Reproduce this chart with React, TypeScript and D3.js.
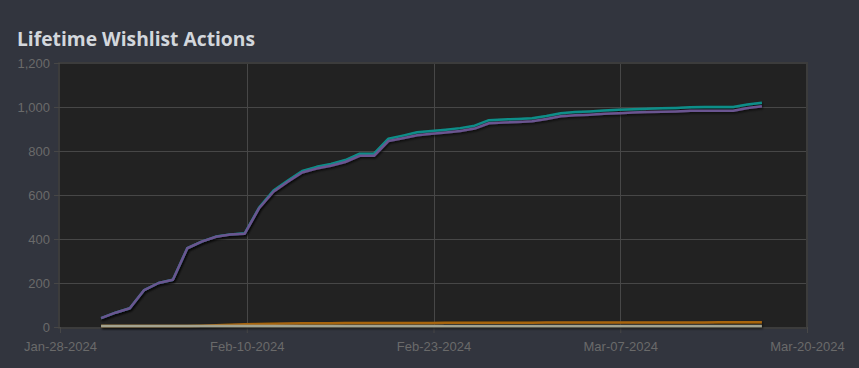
import * as d3 from 'd3';
import React, { useRef, useEffect } from 'react';

// daily points, starting Jan 31 2024
const startDate = new Date(2024, 0, 31)

const netValues = [40, 65, 85, 168, 200, 215, 358, 388, 410, 420, 424,
    540, 615, 660, 702, 720, 733, 750, 778, 778, 845, 858, 872, 878, 884,
    891, 902, 926, 929, 932, 935, 945, 958, 962, 965, 969, 972, 975, 977,
    978, 980, 983, 983, 983, 983, 995, 1003]

const addValues = [40, 65, 85, 168, 200, 215, 358, 388, 411, 421, 426,
    543, 620, 666, 709, 728, 741, 759, 788, 788, 856, 870, 885, 891, 897,
    904, 915, 940, 943, 946, 949, 959, 972, 977, 980, 984, 987, 990, 992,
    994, 996, 999, 1000, 1000, 1000, 1011, 1019]

const deleteValues = [5, 5, 5, 5, 5, 5, 5, 6, 8, 10, 12,
    14, 15, 16, 17, 17, 17, 18, 18, 18, 18, 18, 18, 18, 19,
    19, 19, 19, 19, 19, 19, 20, 20, 20, 20, 21, 21, 21, 21,
    21, 21, 21, 21, 22, 22, 22, 22]

const purchaseValues = [5, 5, 5, 5, 5, 5, 5, 5, 5, 5, 5,
    5, 5, 5, 5, 5, 5, 5, 5, 5, 5, 5, 5, 5, 5,
    5, 5, 5, 5, 5, 5, 5, 5, 5, 5, 5, 5, 5, 5,
    5, 5, 5, 5, 5, 5, 5, 5]

const xTickDates = ['2024-01-28', '2024-02-10', '2024-02-23', '2024-03-07', '2024-03-20']
const yTicks = [0, 200, 400, 600, 800, 1000, 1200]

const series = [
    { name: 'Additions', values: addValues, color: '#0e8e89' },
    { name: 'Net', values: netValues, color: '#6b5490' },
    { name: 'Deletions', values: deleteValues, color: '#a8650c' },
    { name: 'Purchases', values: purchaseValues, color: '#a3a390' },
]

export default function App() {
    const ref = useRef(null)

    useEffect(() => {
        d3.select(ref.current).selectAll('svg').remove()

        const W = 859
        const H = 368
        const margin = { top: 64, right: 52, bottom: 41, left: 60 }

        const parse = d3.timeParse('%Y-%m-%d')
        const tickDates = xTickDates.map(d => parse(d))
        const fmt = d3.timeFormat('%b-%d-%Y')

        const svg = d3.select(ref.current)
            .append('svg')
            .attr('width', W)
            .attr('height', H)
            .style('position', 'fixed')
            .style('left', 0)
            .style('top', 0)

        // shadow under the lines; user space region so flat lines are not clipped
        const defs = svg.append('defs')
        defs.append('filter')
            .attr('id', 'shadow')
            .attr('filterUnits', 'userSpaceOnUse')
            .attr('x', 0).attr('y', 0)
            .attr('width', W).attr('height', H)
            .append('feDropShadow')
            .attr('dx', 1).attr('dy', 1.5)
            .attr('stdDeviation', 1)
            .attr('flood-color', '#000')
            .attr('flood-opacity', 0.7)

        svg.append('rect')
            .attr('width', W).attr('height', H)
            .attr('fill', '#32353e')

        svg.append('text')
            .attr('x', 17)
            .attr('y', 46)
            .attr('fill', '#d3d7dc')
            .style('font-family', '"Open Sans", "Noto Sans", sans-serif')
            .style('font-weight', 700)
            .style('font-size', '19.5px')
            .attr('textLength', 238)
            .attr('lengthAdjust', 'spacingAndGlyphs')
            .text('Lifetime Wishlist Actions')

        const x = d3.scaleTime()
            .domain([tickDates[0], tickDates[tickDates.length - 1]])
            .range([margin.left, W - margin.right])

        const y = d3.scaleLinear()
            .domain([0, 1200])
            .range([H - margin.bottom, margin.top - 1])

        // plot frame
        svg.append('rect')
            .attr('x', margin.left - 1)
            .attr('y', margin.top - 1)
            .attr('width', W - margin.right - margin.left + 1)
            .attr('height', H - margin.bottom - margin.top + 2)
            .attr('fill', '#222222')
            .attr('stroke', '#3c3c3c')
            .attr('stroke-width', 2)

        // y axis + grid
        const yAxis = svg.append('g')
            .attr('transform', `translate(${margin.left},0)`)
            .call(d3.axisLeft(y)
                .tickValues(yTicks)
                .tickSize(6)
                .tickPadding(4)
                .tickFormat(d3.format(',')))
        yAxis.select('.domain').remove()
        yAxis.selectAll('line').attr('stroke', '#474747')
        yAxis.selectAll('text')
            .attr('fill', '#6a6a6a')
            .style('font-family', '"Liberation Sans", Arial, sans-serif')
            .style('font-size', '13px')

        svg.append('g')
            .selectAll('line')
            .data(yTicks.filter(d => d > 0 && d < 1200))
            .join('line')
            .attr('x1', margin.left)
            .attr('x2', W - margin.right - 1)
            .attr('y1', d => Math.round(y(d)) + 0.5)
            .attr('y2', d => Math.round(y(d)) + 0.5)
            .attr('stroke', '#474747')

        // x axis + grid
        const xAxis = svg.append('g')
            .attr('transform', `translate(0,${H - margin.bottom})`)
            .call(d3.axisBottom(x)
                .tickValues(tickDates)
                .tickSize(6)
                .tickPadding(9)
                .tickFormat(fmt))
        xAxis.select('.domain').remove()
        xAxis.selectAll('line').attr('stroke', '#474747')
        xAxis.selectAll('text')
            .attr('fill', '#6a6a6a')
            .style('font-family', '"Liberation Sans", Arial, sans-serif')
            .style('font-size', '13px')

        svg.append('g')
            .selectAll('line')
            .data(tickDates.slice(1, -1))
            .join('line')
            .attr('x1', d => Math.round(x(d)) + 0.5)
            .attr('x2', d => Math.round(x(d)) + 0.5)
            .attr('y1', margin.top)
            .attr('y2', H - margin.bottom)
            .attr('stroke', '#474747')

        // the lines
        const line = d3.line()
            .x((d, i) => x(d3.timeDay.offset(startDate, i)) - 2)
            .y(d => y(d))

        svg.append('g')
            .selectAll('path')
            .data(series)
            .join('path')
            .attr('d', d => line(d.values))
            .attr('fill', 'none')
            .attr('stroke', d => d.color)
            .attr('stroke-width', 2.5)
            .attr('stroke-linejoin', 'round')
            .attr('filter', 'url(#shadow)')
    }, [])

    return <div ref={ref} />
}
